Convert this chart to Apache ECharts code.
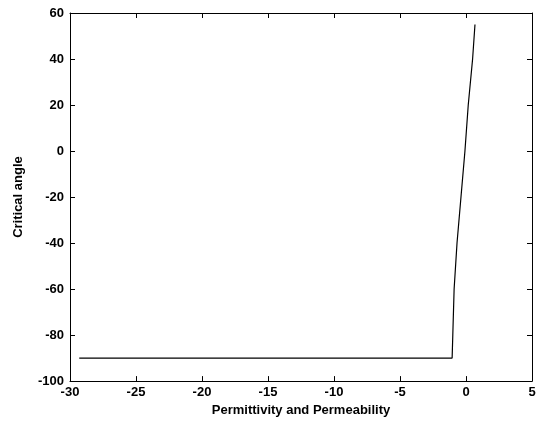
<!DOCTYPE html>
<html>
<head>
<meta charset="utf-8">
<script src="https://cdn.jsdelivr.net/npm/echarts@6/dist/echarts.min.js"></script>
<style>
  html, body { margin: 0; padding: 0; background: #fff; }
  #chart { width: 545px; height: 422px; }
</style>
</head>
<body>
<div id="chart"></div>
<script>
// permittivity / permeability values and critical angle (degrees)
const xValues = [-29.3, -25, -20, -15, -10, -5, -1.05, -1.0, -0.9, -0.68, -0.38, -0.08, 0.17, 0.5, 0.68]
const yValues = [-90, -90, -90, -90, -90, -90, -90, -80, -60, -40, -20, 0, 20, 40, 55]
const xTicks = [-30, 5, 5]   // min, max, interval
const yTicks = [-100, 60, 20]

const font = 'Liberation Sans, Arial, sans-serif'
const axisLine = { show: true, onZero: false, lineStyle: { color: '#000', width: 1 } }
const tickIn = { show: true, inside: true, length: 5, lineStyle: { color: '#000' } }
const label = { color: '#000', fontFamily: font, fontWeight: 'bold', fontSize: 13 }

const chart = echarts.init(document.getElementById('chart'))
chart.setOption({
  animation: false,
  backgroundColor: '#fff',
  grid: { left: 70, right: 13, top: 13, bottom: 40 },
  xAxis: [
    {
      type: 'value', min: xTicks[0], max: xTicks[1], interval: xTicks[2],
      axisLine, axisTick: tickIn, splitLine: { show: false },
      axisLabel: { ...label, margin: 5 },
      name: 'Permittivity and Permeability', nameLocation: 'middle', nameGap: 22,
      nameTextStyle: { ...label, fontSize: 13 }
    },
    {
      type: 'value', position: 'top', min: xTicks[0], max: xTicks[1], interval: xTicks[2],
      axisLine, axisTick: tickIn, axisLabel: { show: false }, splitLine: { show: false }
    }
  ],
  yAxis: [
    {
      type: 'value', min: yTicks[0], max: yTicks[1], interval: yTicks[2],
      axisLine, axisTick: tickIn, splitLine: { show: false },
      axisLabel: { ...label, margin: 6 },
      name: 'Critical angle', nameLocation: 'middle', nameGap: 45,
      nameTextStyle: { ...label, fontSize: 13 }
    },
    {
      type: 'value', position: 'right', min: yTicks[0], max: yTicks[1], interval: yTicks[2],
      axisLine, axisTick: tickIn, axisLabel: { show: false }, splitLine: { show: false }
    }
  ],
  series: [
    {
      type: 'line',
      data: xValues.map((x, i) => [x, yValues[i]]),
      showSymbol: false,
      lineStyle: { color: '#000', width: 1.2 }
    }
  ]
})
</script>
</body>
</html>
